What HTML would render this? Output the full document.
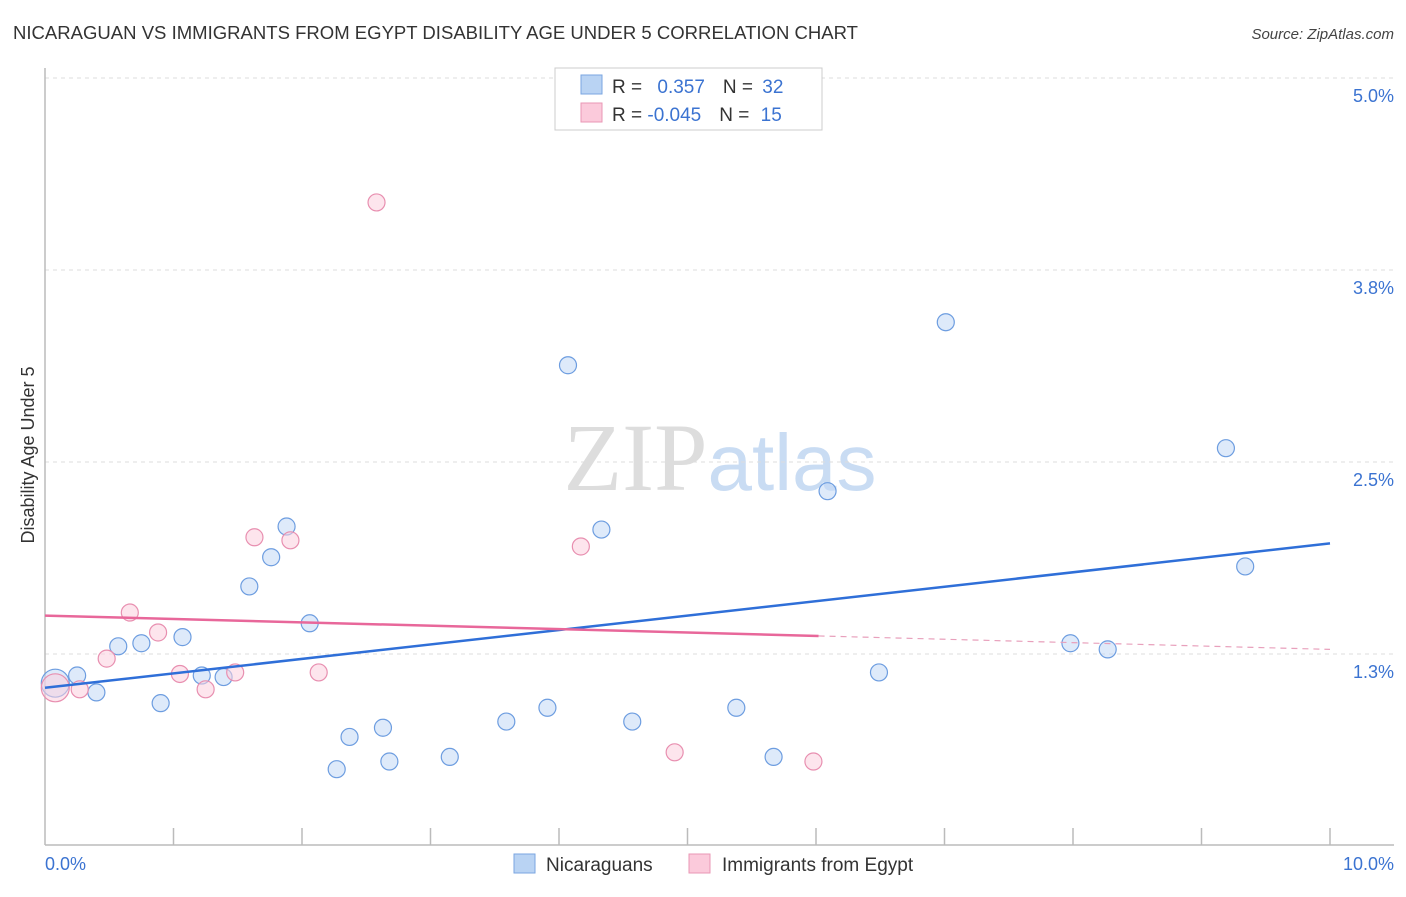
<!DOCTYPE html>
<html><head><meta charset="utf-8"><style>
body{margin:0;background:#fff;font-family:"Liberation Sans",sans-serif;}
</style></head><body>
<svg id="chart" width="1406" height="892" xmlns="http://www.w3.org/2000/svg" font-family="Liberation Sans, sans-serif">
<text x="13" y="39" font-size="18" fill="#333" textLength="845" lengthAdjust="spacingAndGlyphs">NICARAGUAN VS IMMIGRANTS FROM EGYPT DISABILITY AGE UNDER 5 CORRELATION CHART</text>
<text x="1394" y="39" font-size="15" font-style="italic" fill="#444" text-anchor="end">Source: ZipAtlas.com</text>
<text x="720" y="490" font-size="96" text-anchor="middle"><tspan fill="#ddd" font-family="Liberation Serif, serif">ZIP</tspan><tspan fill="#c9dcf3" font-size="80">atlas</tspan></text>
<g id="grid"></g>
<line x1="45" y1="68" x2="45" y2="845" stroke="#bbb" stroke-width="1.5"/>
<line x1="45" y1="845" x2="1394" y2="845" stroke="#bbb" stroke-width="1.5"/>
<g id="ticks"></g>
<text transform="translate(34,455) rotate(-90)" font-size="18" fill="#333" text-anchor="middle">Disability Age Under 5</text>
<text x="45" y="870" font-size="18" fill="#3b73d1">0.0%</text>
<text x="1394" y="870" font-size="18" fill="#3b73d1" text-anchor="end">10.0%</text>
<g id="marks"></g>
<g>
<rect x="555" y="68" width="267" height="62" fill="#fff" stroke="#ccc"/>
<rect x="581" y="75" width="21" height="19" fill="#b9d3f3" stroke="#7aa6e0"/>
<text x="612" y="93" font-size="19" fill="#333">R =  <tspan fill="#3b73d1" dx="10">0.357</tspan><tspan dx="18">N = </tspan><tspan fill="#3b73d1" dx="4">32</tspan></text>
<rect x="581" y="103" width="21" height="19" fill="#fbcadb" stroke="#e997b5"/>
<text x="612" y="121" font-size="19" fill="#333">R = <tspan fill="#3b73d1">-0.045</tspan><tspan dx="18">N = </tspan><tspan fill="#3b73d1" dx="6">15</tspan></text>
</g>
<g>
<rect x="514" y="854" width="21" height="19" fill="#b9d3f3" stroke="#7aa6e0"/>
<text x="546" y="871" font-size="19" fill="#333">Nicaraguans</text>
<rect x="689" y="854" width="21" height="19" fill="#fbcadb" stroke="#e997b5"/>
<text x="722" y="871" font-size="19" fill="#333">Immigrants from Egypt</text>
</g>
</svg>
<script>
const yTicks=[1.25,2.5,3.75,5.0];
const yTickLabels=["1.3%","2.5%","3.8%","5.0%"];
const blueX=[0.08,0.25,0.40,0.57,0.75,0.90,1.07,1.22,1.39,1.59,1.76,1.88,2.06,2.27,2.37,2.63,2.68,3.15,3.59,3.91,4.07,4.33,4.57,5.38,5.67,6.09,6.49,7.01,7.98,8.27,9.19,9.34];
const blueY=[1.06,1.11,1.00,1.30,1.32,0.93,1.36,1.11,1.10,1.69,1.88,2.08,1.45,0.50,0.71,0.77,0.55,0.58,0.81,0.90,3.13,2.06,0.81,0.90,0.58,2.31,1.13,3.41,1.32,1.28,2.59,1.82];
const pinkX=[0.08,0.27,0.48,0.66,0.88,1.05,1.25,1.48,1.63,1.91,2.13,2.58,4.17,4.90,5.98];
const pinkY=[1.03,1.02,1.22,1.52,1.39,1.12,1.02,1.13,2.01,1.99,1.13,4.19,1.95,0.61,0.55];
const blueTrend=[1.03,1.97];
const pinkTrend=[1.50,1.28];
const pinkSolidEnd=6.02;
const NS="http://www.w3.org/2000/svg";
const sx=v=>45+v*128.5;
const sy=v=>654-(v-1.25)*153.6;
function mk(parent,tag,attrs){const e=document.createElementNS(NS,tag);for(const k in attrs)e.setAttribute(k,attrs[k]);document.getElementById(parent).appendChild(e);return e;}
yTicks.forEach((t,i)=>{
 const l=mk('grid','line',{x1:45,x2:1394,y1:sy(t),y2:sy(t),stroke:'#ddd','stroke-dasharray':'4,4'});
 
 
 const tx=mk('grid','text',{x:1394,y:sy(t)+24,'font-size':18,fill:'#3b73d1','text-anchor':'end'});
 tx.textContent=yTickLabels[i];
 
 
});
for(let i=1;i<=10;i++){
 const l=mk('ticks','line',{x1:sx(i),x2:sx(i),y1:828,y2:845,stroke:'#bbb','stroke-width':1.5});
 
 
}
function dots(xs,ys,fill,stroke,name){
 xs.forEach((x,i)=>{
  const r=i===0?14:8.5;
  const c=mk('marks','circle',{cx:sx(x),cy:sy(ys[i]),r:r,fill:fill,'fill-opacity':0.55,stroke:stroke,'stroke-width':1.2});
  
  
 });
}
dots(blueX,blueY,'#c3d9f5','#6d9de0','blue-point');
dots(pinkX,pinkY,'#fbcfdf','#e88fb0','pink-point');
const bl=mk('marks','line',{x1:sx(0),y1:sy(blueTrend[0]),x2:sx(10),y2:sy(blueTrend[1]),stroke:'#2f6fd8','stroke-width':2.5});


const pv=x=>pinkTrend[0]+(pinkTrend[1]-pinkTrend[0])*x/10;
const pl=mk('marks','line',{x1:sx(0),y1:sy(pv(0)),x2:sx(pinkSolidEnd),y2:sy(pv(pinkSolidEnd)),stroke:'#e8679a','stroke-width':2.5});


const pd=mk('marks','line',{x1:sx(pinkSolidEnd),y1:sy(pv(pinkSolidEnd)),x2:sx(10),y2:sy(pv(10)),stroke:'#e8a0bc','stroke-width':1.2,'stroke-dasharray':'6,5'});


</script>
</body></html>
